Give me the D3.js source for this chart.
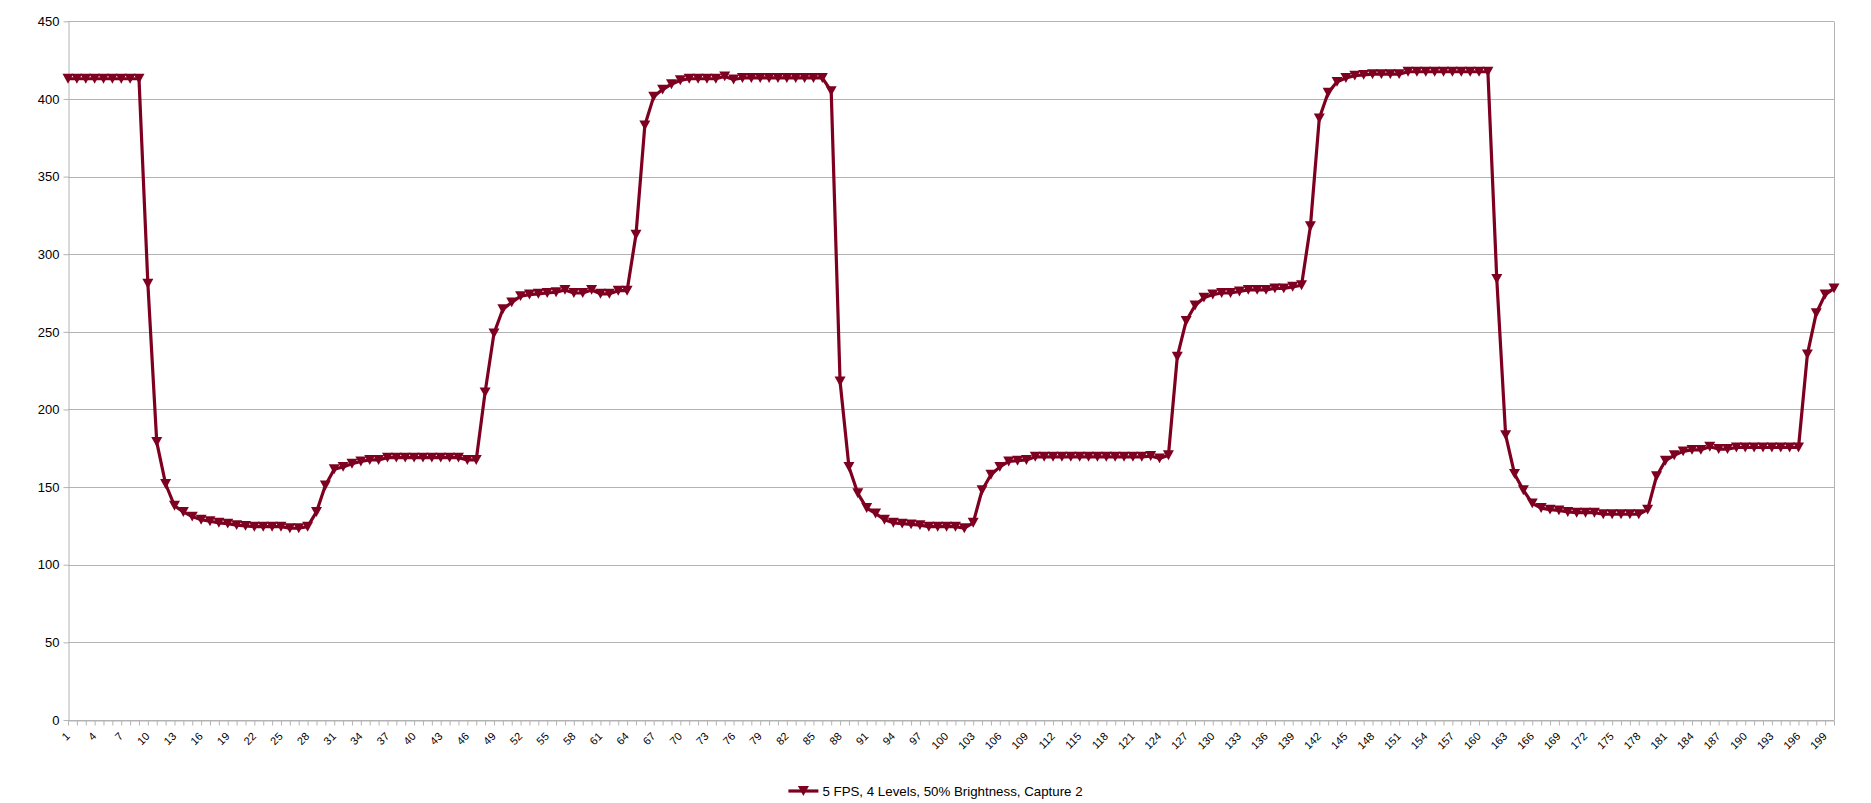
<!DOCTYPE html>
<html>
<head>
<meta charset="utf-8">
<script src="https://cdn.jsdelivr.net/npm/d3@7"></script>
<style>
  body { margin: 0; background: #fff; }
  text { font-family: "Liberation Sans", Arial, sans-serif; fill: #000; }
</style>
</head>
<body>
<div id="chart"></div>
<script>
// categories 1..200 (frame number)
var categories = d3.range(1, 201);
var yTicks = [0, 50, 100, 150, 200, 250, 300, 350, 400, 450];
var seriesName = "5 FPS, 4 Levels, 50% Brightness, Capture 2";

var values = [
  413, 413, 413, 413, 413, 413, 413, 413, 413, 281,
  179, 152, 138, 134, 131, 129, 128, 127, 126.5, 125.5,
  125, 124.5, 124.5, 124.5, 124.5, 123.5, 123.5, 124.5, 134, 151,
  161.5, 163, 165, 166.5, 167.5, 167.5, 169, 169, 169, 169,
  169, 169, 169, 169, 169, 167.5, 167.5, 211, 249, 264.5,
  269, 273, 274, 274.5, 275, 275.5, 277, 275, 275, 277,
  274.5, 274.5, 276.5, 276.5, 312.5, 383, 401.5, 406, 409.5, 412,
  413, 413, 413, 413, 414.5, 412.5, 413.5, 413.5, 413.5, 413.5,
  413.5, 413.5, 413.5, 413.5, 413.5, 413.5, 405, 218, 163, 146,
  136.5, 133, 129, 127, 126.5, 126, 125.5, 124.5, 124.5, 124.5,
  124.5, 123.5, 127, 148, 158, 163, 166.5, 167, 167.5, 169.5,
  169.5, 169.5, 169.5, 169.5, 169.5, 169.5, 169.5, 169.5, 169.5, 169.5,
  169.5, 169.5, 170, 168.5, 170.5, 234, 257, 267, 272, 274,
  275, 275, 276, 277, 277, 277, 278, 278, 279, 280,
  318, 387.5, 404, 411, 413.5, 415, 415.5, 416, 416, 416,
  416, 417.5, 417.5, 417.5, 417.5, 417.5, 417.5, 417.5, 417.5, 417.5,
  417.5, 284, 183.5, 158.5, 148, 139.5, 136.5, 135.5, 135, 134,
  133.5, 133.5, 133.5, 132.5, 132.5, 132.5, 132.5, 132.5, 135.5, 157,
  167, 170.5, 173, 174, 174, 176, 174.5, 174.5, 175.5, 175.5,
  175.5, 175.5, 175.5, 175.5, 175.5, 175.5, 235.5, 262, 274, 278
];

var width = 1871;
var height = 803;
var plotLeft = 68, plotRight = 1834, plotTop = 21.3, plotBottom = 720;
var color = "#7e0021";
var gridColor = "#b3b3b3";

var svg = d3.select("#chart").append("svg")
    .attr("width", width)
    .attr("height", height);

var x = d3.scalePoint()
    .domain(categories)
    .range([plotLeft, plotRight]);

var y = d3.scaleLinear()
    .domain([0, 450])
    .range([plotBottom, plotTop]);

// horizontal grid
svg.append("g")
  .selectAll("line")
  .data(yTicks)
  .enter().append("line")
    .attr("x1", plotLeft)
    .attr("x2", plotRight)
    .attr("y1", function(d) { return Math.round(y(d)) + 0.5; })
    .attr("y2", function(d) { return Math.round(y(d)) + 0.5; })
    .attr("stroke", gridColor);

// right border of plot
svg.append("line")
    .attr("x1", plotRight + 0.5).attr("x2", plotRight + 0.5)
    .attr("y1", Math.round(plotTop) + 0.5).attr("y2", plotBottom)
    .attr("stroke", gridColor);

var yAxis = svg.append("g")
    .attr("transform", "translate(" + (plotLeft + 0.5) + ",0)")
    .call(d3.axisLeft(y).tickValues(yTicks).tickSize(5).tickSizeOuter(0).tickPadding(4));
yAxis.selectAll("path, line").attr("stroke", gridColor);
yAxis.selectAll("text")
    .attr("font-size", "13px")
    .attr("font-family", "Liberation Sans, Arial, sans-serif")
    .attr("fill", "#000");

var xAxis = svg.append("g")
    .attr("transform", "translate(0," + (plotBottom + 0.5) + ")")
    .call(d3.axisBottom(x).tickSize(5).tickSizeOuter(0).tickFormat(function(d) {
      return (d - 1) % 3 == 0 ? d : "";
    }));
xAxis.selectAll("path, line").attr("stroke", gridColor);
xAxis.selectAll("text")
    .attr("font-size", "11px")
    .attr("font-family", "Liberation Sans, Arial, sans-serif")
    .attr("fill", "#000")
    .attr("text-anchor", "end")
    .attr("y", 0)
    .attr("dy", 0)
    .attr("transform", "translate(2,16.5) rotate(-45)");

// the series
var line = d3.line()
    .x(function(d, i) { return x(categories[i]); })
    .y(function(d) { return y(d); });

svg.append("path")
    .datum(values)
    .attr("d", line)
    .attr("fill", "none")
    .attr("stroke", color)
    .attr("stroke-width", 3.2)
    .attr("stroke-linejoin", "round");

// down triangle centred on its box, size = width in px
var downTriangle = {
  draw: function(ctx, s) {
    var w = s, h = s * 0.9;
    ctx.moveTo(-w / 2, -h / 2);
    ctx.lineTo(w / 2, -h / 2);
    ctx.lineTo(0, h / 2);
    ctx.closePath();
  }
};
var tri = d3.symbol().type(downTriangle).size(11);

svg.append("g")
  .selectAll("path")
  .data(values)
  .enter().append("path")
    .attr("d", tri)
    .attr("fill", color)
    .attr("transform", function(d, i) {
      return "translate(" + x(categories[i]) + "," + y(d) + ")";
    });

// legend, centred under the chart
var lg = svg.append("g");
var lgText = lg.append("text")
    .attr("x", 34)
    .attr("y", 4.5)
    .attr("font-size", "13.3px")
    .text(seriesName);
lg.append("line")
    .attr("x1", 0).attr("x2", 30)
    .attr("y1", 0).attr("y2", 0)
    .attr("stroke", color)
    .attr("stroke-width", 3.2);
lg.append("path")
    .attr("d", tri)
    .attr("fill", color)
    .attr("transform", "translate(15,0)");
var lgW = 34 + lgText.node().getComputedTextLength();
lg.attr("transform", "translate(" + (width / 2 - lgW / 2) + ",791)");
</script>
</body>
</html>
